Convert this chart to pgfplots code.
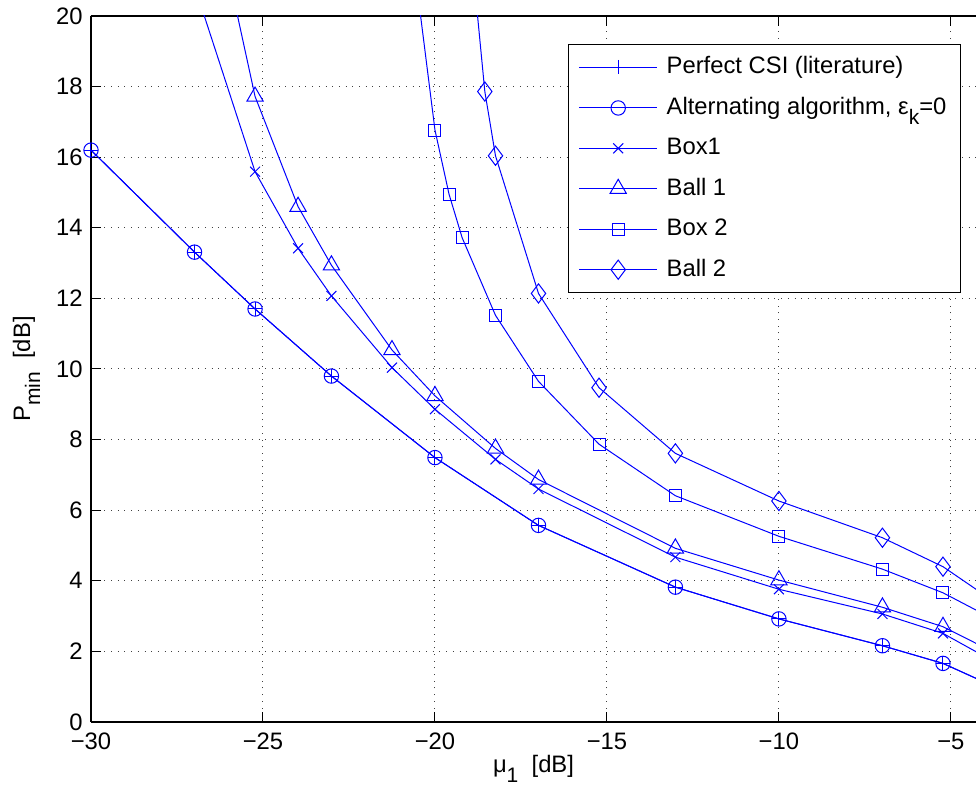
\documentclass[border=0pt]{standalone}
\usepackage{fontspec}
\setmainfont{Liberation Sans}
\usepackage{pgfplots}
\pgfplotsset{compat=1.18}

% subscripts as MATLAB sets them: lowered, nearly full size
\newcommand{\sub}[1]{\raisebox{-0.42em}{\fontsize{10.5}{10.5}\selectfont #1}}

\begin{document}
\fontsize{11.9}{14.3}\selectfont
\begin{tikzpicture}
\begin{axis}[
    scale only axis,
    width=442.5pt,
    height=353pt,
    xmin=-30, xmax=-4.27,
    ymin=0, ymax=20,
    axis y line*=left,
    y axis line style={-},
    ytick pos=left,
    xtick={-30,-25,-20,-15,-10,-5},
    xticklabels={−30,−25,−20,−15,−10,−5},
    ytick={0,2,4,6,8,10,12,14,16,18,20},
    /pgf/number format/assume math mode=true,
    tick align=inside,
    major tick length=5pt,
    tick style={black, line width=0.5pt},
    axis line style={black, line width=0.6pt},
    xticklabel style={yshift=-1.5pt},
    grid=major,
    grid style={black!75, line width=0.5pt, dash pattern=on 0.5pt off 2.85pt},
    xlabel={μ\sub{1}~~[dB]},
    ylabel={P\sub{min}~~[dB]},
    xlabel style={at={(axis description cs:0.5,-0.0722)}, anchor=base},
    ylabel style={at={(axis description cs:-0.0689,0.5)}, anchor=base},
    legend style={at={(axis description cs:0.983,0.960)}, anchor=north east,
        line width=0.5pt, row sep=6pt, inner xsep=5pt, inner ysep=4pt,
        nodes={inner sep=2pt},
        /tikz/every odd column/.append style={column sep=2.5pt}},
    legend cell align=left,
    legend image code/.code={
        \draw[mark repeat=2, mark phase=2] plot coordinates {(0pt,0pt) (19.5pt,0pt) (39pt,0pt)};
    },
]

% Perfect CSI (literature)
\addplot[blue, line width=0.5pt, mark=+, mark size=3.6pt, mark options={solid}] coordinates {
    (-30,16.2) (-26.99,13.31) (-25.23,11.70) (-23.01,9.80) (-20,7.49)
    (-16.99,5.57) (-13.01,3.82) (-10,2.92) (-6.99,2.16) (-5.23,1.66) (-3.01,0.68)
};
\addlegendentry{Perfect CSI (literature)}

% Alternating algorithm
\addplot[blue, line width=0.5pt, mark=o, mark size=3.6pt, mark options={solid}] coordinates {
    (-30,16.2) (-26.99,13.31) (-25.23,11.70) (-23.01,9.80) (-20,7.49)
    (-16.99,5.57) (-13.01,3.82) (-10,2.92) (-6.99,2.16) (-5.23,1.66) (-3.01,0.68)
};
\addlegendentry{Alternating algorithm, ε\sub{k}=0}

% Box1
\addplot[blue, line width=0.5pt, mark=x, mark size=3.5pt, mark options={solid}] coordinates {
    (-26.99,20.85) (-25.23,15.59) (-23.98,13.42) (-23.01,12.07) (-21.25,10.04)
    (-20,8.86) (-18.24,7.44) (-16.99,6.60) (-13.01,4.67) (-10,3.76)
    (-6.99,3.06) (-5.23,2.51) (-3.01,1.31)
};
\addlegendentry{Box1}

% Ball 1
\addplot[blue, line width=0.5pt, mark=triangle, mark size=4.7pt, mark options={solid}] coordinates {
    (-26.99,25.6) (-25.23,17.72) (-23.98,14.6) (-23.01,12.94) (-21.25,10.54)
    (-20,9.24) (-18.24,7.75) (-16.99,6.87) (-13.01,4.92) (-10,4.02)
    (-6.99,3.25) (-5.23,2.70) (-3.01,1.61)
};
\addlegendentry{Ball 1}

% Box 2
\addplot[blue, line width=0.5pt, mark=square, mark size=3pt, mark options={solid}] coordinates {
    (-20.46,20.33) (-20,16.77) (-19.59,14.95) (-19.21,13.72) (-18.24,11.52)
    (-16.99,9.65) (-15.23,7.87) (-13.01,6.41) (-10,5.26) (-6.99,4.33)
    (-5.23,3.66) (-3.01,2.53)
};
\addlegendentry{Box 2}

% Ball 2
\addplot[blue, line width=0.5pt, mark=diamond, mark size=4.8pt, mark options={solid}] coordinates {
    (-18.86,21.0) (-18.55,17.86) (-18.24,16.04) (-16.99,12.14) (-15.23,9.47)
    (-13.01,7.61) (-10,6.26) (-6.99,5.22) (-5.23,4.40) (-3.01,2.92)
};
\addlegendentry{Ball 2}

\end{axis}
\pgfresetboundingbox
\path[use as bounding box] ([xshift=-45.5pt,yshift=-32.5pt]current axis.south west)
    rectangle ([yshift=8pt]current axis.north east);
\end{tikzpicture}
\end{document}
